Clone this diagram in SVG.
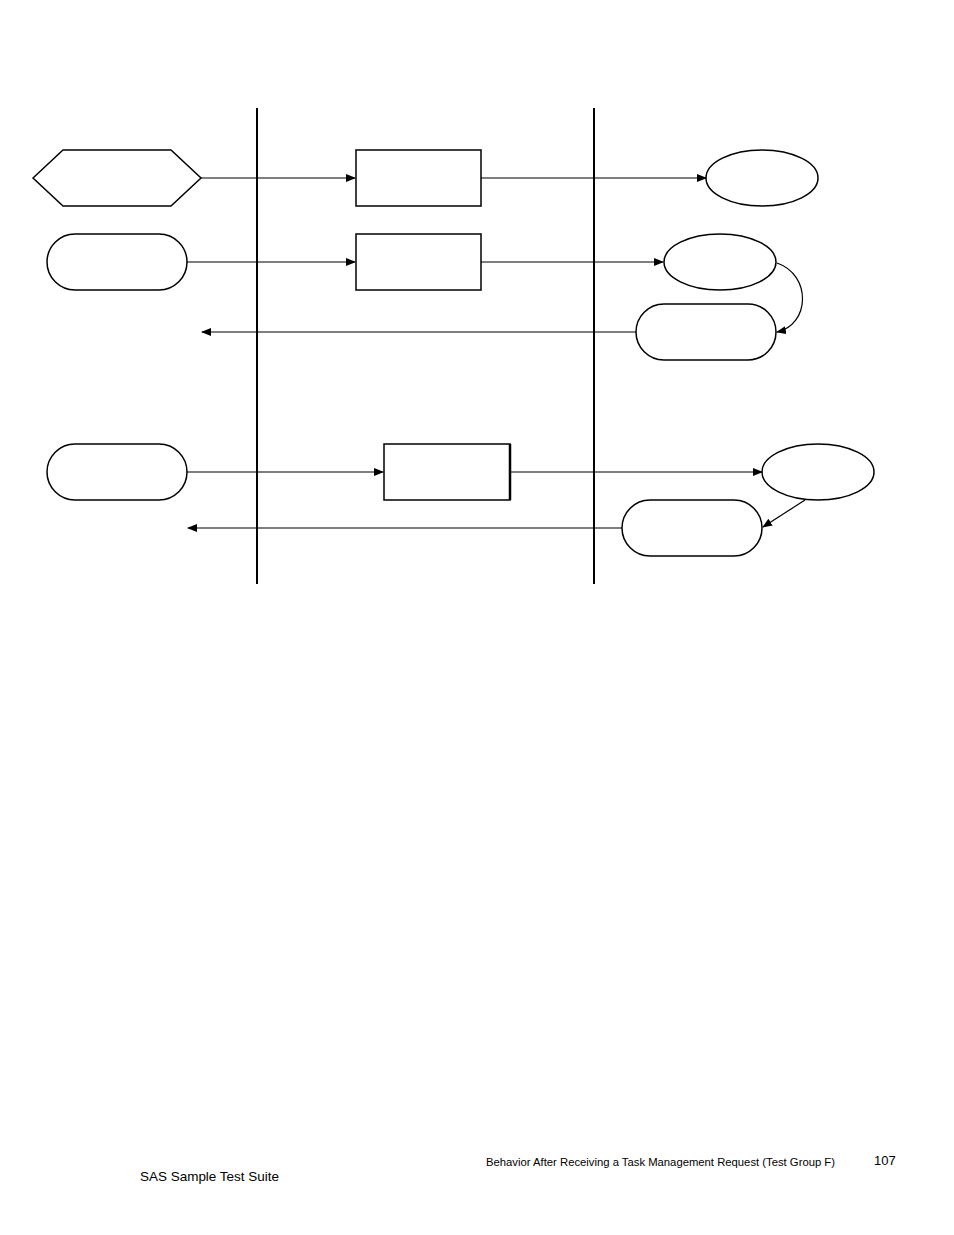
<svg xmlns="http://www.w3.org/2000/svg" width="954" height="1235" viewBox="0 0 954 1235">
<defs>
<marker id="a" markerWidth="10" markerHeight="8" refX="9" refY="4" orient="auto" markerUnits="userSpaceOnUse"><path d="M0,0 L10,4 L0,8 z" fill="#000"/></marker>
<style>.s{fill:#fff;stroke:#000;stroke-width:1.5}.c{fill:none;stroke:#000;stroke-width:1.2;marker-end:url(#a)}.t{font-family:"Liberation Sans",Arial,sans-serif;fill:#000}</style>
</defs>
<rect width="954" height="1235" fill="#fff"/>
<g id="lanes"><line x1="257" y1="108" x2="257" y2="584" stroke="#000" stroke-width="2"/><line x1="594" y1="108" x2="594" y2="584" stroke="#000" stroke-width="2"/></g>
<g id="n1"><polygon class="s" points="33,178 63,150 171,150 201,178 171,206 63,206"/></g>
<g id="n2"><rect class="s" x="356" y="150" width="125" height="56"/></g>
<g id="n3"><ellipse class="s" cx="762" cy="178" rx="56" ry="28"/></g>
<g id="n4"><rect class="s" x="47" y="234" width="140" height="56" rx="28"/></g>
<g id="n5"><rect class="s" x="356" y="234" width="125" height="56"/></g>
<g id="n6"><ellipse class="s" cx="720" cy="262" rx="56" ry="28"/></g>
<g id="n7"><rect class="s" x="636" y="304" width="140" height="56" rx="28"/></g>
<g id="n8"><rect class="s" x="47" y="444" width="140" height="56" rx="28"/></g>
<g id="n9"><rect class="s" x="384" y="444" width="126" height="56"/><line x1="510" y1="444" x2="510" y2="500" stroke="#000" stroke-width="2.5"/></g>
<g id="n10"><ellipse class="s" cx="818" cy="472" rx="56" ry="28"/></g>
<g id="n11"><rect class="s" x="622" y="500" width="140" height="56" rx="28"/></g>
<g id="connectors">
<path class="c" d="M201,178 L355,178"/>
<path class="c" d="M481,178 L706,178"/>
<path class="c" d="M187,262 L355,262"/>
<path class="c" d="M481,262 L663,262"/>
<path class="c" d="M777,263 C812,275 810,325 777,332"/>
<path class="c" d="M636,332 L202,332"/>
<path class="c" d="M187,472 L383,472"/>
<path class="c" d="M510,472 L762,472"/>
<path class="c" d="M805,500 L763,527"/>
<path class="c" d="M622,528 L188,528"/>
</g>
<text class="t" x="140" y="1181" font-size="13" textLength="139" lengthAdjust="spacingAndGlyphs">SAS Sample Test Suite</text>
<text class="t" x="486" y="1166" font-size="10.5" textLength="349" lengthAdjust="spacingAndGlyphs">Behavior After Receiving a Task Management Request (Test Group F)</text>
<text class="t" x="874" y="1165" font-size="13">107</text>
</svg>
